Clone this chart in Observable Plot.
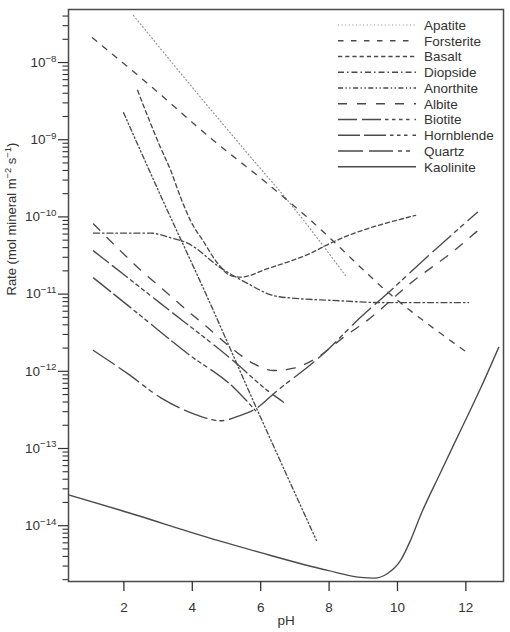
<!DOCTYPE html>
<html><head><meta charset="utf-8">
<script src="https://cdn.jsdelivr.net/npm/d3@7"></script>
<script src="https://cdn.jsdelivr.net/npm/@observablehq/plot@0.6"></script>
<style>
body{margin:0;background:#fff;}
#wrap{position:relative;width:510px;height:632px;font-family:"Liberation Sans",Arial,Helvetica,sans-serif;}
#wrap svg{position:absolute;left:0;top:0;}
</style></head><body><div id="wrap"></div>
<script>
// ---- data (pH, log10 rate in mol mineral m^-2 s^-1) ----
const minerals = ["Apatite","Forsterite","Basalt","Diopside","Anorthite","Albite","Biotite","Hornblende","Quartz","Kaolinite"];

const apatitePH  = [2.28, 4.24, 5.62, 6.96, 8.48];
const apatiteLog = [-7.39, -8.45, -9.18, -9.88, -10.76];

const forsteritePH  = [1.08, 2.69, 4.62, 6.20, 7.40, 9.89, 12.08];
const forsteriteLog = [-7.68, -8.27, -9.01, -9.57, -10.02, -11.04, -11.77];

const basaltPH  = [2.40, 2.78, 3.07, 3.37, 3.66, 3.95, 4.33, 4.74, 5.12, 5.41, 6.20, 7.46, 8.04, 10.53];
const basaltLog = [-8.36, -8.79, -9.10, -9.40, -9.75, -10.05, -10.32, -10.60, -10.76, -10.78, -10.67, -10.47, -10.34, -9.98];

const diopsidePH  = [1.11, 2.78, 3.37, 3.86, 4.83, 5.61, 6.38, 7.16, 8.04, 9.59, 12.08];
const diopsideLog = [-10.21, -10.21, -10.27, -10.34, -10.66, -10.86, -11.02, -11.06, -11.08, -11.11, -11.11];

const anorthitePH  = [1.99, 3.07, 4.39, 5.91, 7.63];
const anorthiteLog = [-8.65, -9.72, -10.99, -12.51, -14.19];

const albitePH  = [1.11, 1.90, 2.49, 3.07, 3.74, 4.44, 5.12, 5.79, 6.38, 6.96, 7.66, 8.42, 9.12, 10.38, 11.76, 12.34];
const albiteLog = [-10.09, -10.44, -10.69, -10.91, -11.17, -11.43, -11.69, -11.90, -11.99, -11.96, -11.82, -11.56, -11.34, -10.86, -10.40, -10.18];

const biotitePH  = [1.11, 3.07, 5.32, 6.20, 6.67];
const biotiteLog = [-10.44, -11.12, -11.91, -12.25, -12.40];

const hornblendePH  = [1.11, 2.49, 3.86, 5.21, 5.85];
const hornblendeLog = [-10.79, -11.28, -11.77, -12.21, -12.51];

const quartzPH  = [1.11, 2.11, 3.07, 4.04, 4.83, 5.41, 5.91, 6.38, 7.84, 8.92, 9.86, 10.76, 12.34];
const quartzLog = [-11.73, -12.03, -12.34, -12.55, -12.64, -12.57, -12.47, -12.29, -11.77, -11.30, -10.93, -10.56, -9.94];

const kaolinitePH  = [0.38, 1.90, 4.74, 6.00, 7.96, 8.92, 9.31, 9.71, 10.09, 10.38, 10.67, 11.26, 11.84, 12.43, 12.96];
const kaoliniteLog = [-13.60, -13.80, -14.19, -14.35, -14.58, -14.67, -14.68, -14.62, -14.45, -14.19, -13.87, -13.31, -12.77, -12.22, -11.69];

const xTicks = [2, 4, 6, 8, 10, 12];
const yExponents = [-14, -13, -12, -11, -10, -9, -8];
const xLabel = "pH";
// "^" toggles superscript
const yLabel = "Rate (mol mineral m^\u22122^ s^\u22121^)";

// ---- styles ----
const dashes = {
  Apatite: "1,2.6",
  Forsterite: "5.5,7.5",
  Basalt: "4.2,3",
  Diopside: "6,3,1.5,3",
  Anorthite: "5,2.5,1.3,2.5,1.3,2.5",
  Albite: "9,10",
  Biotite: "19,5,19,4,3.5,3.5,3.5,3.5,3.5,3.5,3.5,5",
  Hornblende: "22,4,22,4,3.5,3.5,3.5,3.5,3.5,5",
  Quartz: "25,6,24,5,4,4,4,6",
  Kaolinite: null
};
const lineColor = m => m === "Apatite" ? "#8c8c8c" : "#4a4a4a";
const lineWidth = m => m === "Apatite" ? 1.1 : 1.35;

const seriesPH = [apatitePH, forsteritePH, basaltPH, diopsidePH, anorthitePH, albitePH, biotitePH, hornblendePH, quartzPH, kaolinitePH];
const seriesLog = [apatiteLog, forsteriteLog, basaltLog, diopsideLog, anorthiteLog, albiteLog, biotiteLog, hornblendeLog, quartzLog, kaoliniteLog];

const tables = minerals.map((m, i) => seriesPH[i].map((p, j) => ({mineral: m, pH: p, rate: Math.pow(10, seriesLog[i][j])})));

const fmtPow = d => "10^" + String(Math.round(Math.log10(d))).replace("-", "\u2212") + "^";

const majors = yExponents.map(e => Math.pow(10, e));
const minors = [];
for (let e = -15; e <= -8; e++) for (let k = 2; k <= 9; k++) minors.push(k * Math.pow(10, e));

const yDomain = [Math.pow(10, -14.723), Math.pow(10, -7.313)];

const chart = Plot.plot({
  width: 510, height: 632,
  marginLeft: 68, marginRight: 7, marginTop: 9, marginBottom: 51,
  style: {fontFamily: "'Liberation Sans', Arial, Helvetica, sans-serif", fontSize: "13.5px", color: "#333", background: "#fff"},
  x: {domain: [0.38, 13.1]},
  y: {type: "log", domain: yDomain},
  marks: [
    ...tables.map((t, i) => Plot.line(t, {
      x: "pH", y: "rate", curve: "monotone-x",
      stroke: lineColor(minerals[i]), strokeWidth: lineWidth(minerals[i]),
      strokeDasharray: dashes[minerals[i]] || undefined, clip: true
    })),
    Plot.frame({stroke: "#4a4a4a", strokeWidth: 1.5}),
    Plot.axisX({ticks: xTicks, tickSize: 10, tickPadding: 11, label: null, strokeWidth: 1.3, fontSize: 13.5}),
    Plot.axisY({ticks: majors, tickSize: 10, tickPadding: 2, tickFormat: fmtPow, label: null, strokeWidth: 1.2, fontSize: 13.5}),
    Plot.axisY({ticks: minors.filter(v => v > yDomain[0] && v < yDomain[1]), tickSize: 5.5, tickFormat: () => "", label: null, strokeWidth: 1.1}),
    Plot.text([xLabel], {frameAnchor: "bottom", dy: 43, text: d => d, fontSize: 13.5, fill: "#333"}),
    Plot.text([yLabel], {frameAnchor: "left", dx: -57, rotate: -90, text: d => d, fontSize: 13, fill: "#333"})
  ]
});
document.getElementById("wrap").appendChild(chart);

// turn "^...^" segments into superscript tspans
d3.select(chart).selectAll("text").each(function() {
  const s = this.textContent;
  if (!s.includes("^")) return;
  const parts = s.split("^");
  this.textContent = "";
  const sel = d3.select(this);
  parts.forEach((p, i) => {
    if (!p) return;
    const isSup = i % 2 === 1;
    const ts = sel.append("tspan").text(p);
    if (isSup) ts.attr("font-size", "0.72em").attr("dy", "-0.55em");
    else if (i > 0) ts.attr("dy", "0.4em");
  });
});

// ---- legend (overlay) ----
const legX1 = 338, legX2 = 416, legTextX = 424, legY0 = 25, legStep = 15.75;
const leg = d3.select("#wrap").append("svg").attr("width", 510).attr("height", 632).style("pointer-events", "none");
const rows = leg.selectAll("g").data(minerals).join("g")
  .attr("transform", (d, i) => `translate(0,${legY0 + i * legStep})`);
rows.append("line").attr("x1", legX1).attr("x2", legX2).attr("y1", 0).attr("y2", 0)
  .attr("stroke", d => lineColor(d)).attr("stroke-width", d => lineWidth(d))
  .attr("stroke-dasharray", d => dashes[d]);
rows.append("text").attr("x", legTextX).attr("y", 0).attr("dy", "0.36em")
  .attr("font-family", "'Liberation Sans', Arial, Helvetica, sans-serif")
  .attr("font-size", 13.5).attr("fill", "#333").text(d => d);
</script></body></html>
